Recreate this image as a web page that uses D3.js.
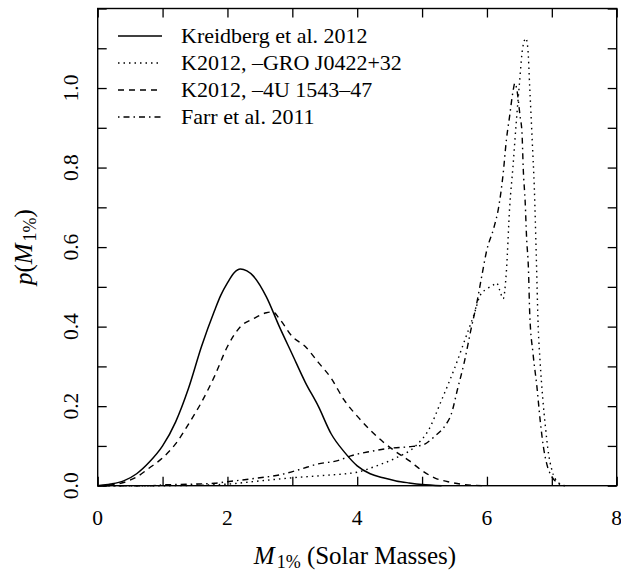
<!DOCTYPE html>
<html><head><meta charset="utf-8">
<script src="https://cdn.jsdelivr.net/npm/d3@7"></script>
<style>body{margin:0;background:#fff}svg{display:block}text{font-family:"Liberation Serif","Times New Roman",Times,"DejaVu Serif",serif}</style>
</head><body>
<script>
// ---- data ----
const xTicks = [0, 1, 2, 3, 4, 5, 6, 7, 8];
const xTickLabels = [0, 2, 4, 6, 8];
const yTicks = [0, 0.1, 0.2, 0.3, 0.4, 0.5, 0.6, 0.7, 0.8, 0.9, 1.0, 1.1, 1.2];
const yTickLabels = [0, 0.2, 0.4, 0.6, 0.8, 1.0];
const seriesNames = ["Kreidberg et al. 2012", "K2012, \u2013GRO J0422+32", "K2012, \u20134U 1543\u201347", "Farr et al. 2011"];

const kreidbergMass = [0, 0.2, 0.4, 0.6, 0.8, 1.0, 1.2, 1.4, 1.6, 1.8, 1.9, 2.0, 2.1, 2.2, 2.3, 2.4, 2.6, 2.8, 3.0, 3.2, 3.4, 3.6, 3.8, 4.0, 4.2, 4.4, 4.6, 4.8, 5.0, 5.3];
const kreidbergDens = [0, 0.004, 0.012, 0.03, 0.06, 0.10, 0.16, 0.245, 0.35, 0.44, 0.48, 0.51, 0.535, 0.545, 0.54, 0.527, 0.475, 0.40, 0.33, 0.26, 0.20, 0.13, 0.085, 0.05, 0.03, 0.02, 0.012, 0.007, 0.003, 0];

const groMass = [0, 1.0, 1.5, 2.0, 2.5, 3.0, 3.5, 4.0, 4.3, 4.6, 4.9, 5.1, 5.3, 5.5, 5.7, 5.8, 5.9, 6.0, 6.1, 6.15, 6.2, 6.25, 6.3, 6.35, 6.4, 6.45, 6.5, 6.55, 6.6, 6.63, 6.66, 6.7, 6.73, 6.76, 6.79, 6.82, 6.86, 6.9, 6.95, 7.0, 7.1, 7.2];
const groDens = [0, 0, 0.001, 0.004, 0.012, 0.02, 0.026, 0.034, 0.05, 0.07, 0.10, 0.14, 0.215, 0.295, 0.385, 0.43, 0.48, 0.495, 0.505, 0.51, 0.49, 0.47, 0.54, 0.70, 0.80, 0.91, 1.01, 1.10, 1.125, 1.10, 1.0, 0.86, 0.75, 0.58, 0.40, 0.31, 0.22, 0.15, 0.08, 0.04, 0.008, 0];

const uMass = [0, 0.2, 0.4, 0.6, 0.8, 1.0, 1.2, 1.4, 1.6, 1.8, 2.0, 2.2, 2.4, 2.6, 2.7, 2.8, 3.0, 3.2, 3.4, 3.6, 3.8, 4.0, 4.2, 4.4, 4.6, 4.8, 5.0, 5.2, 5.4, 5.6, 5.8, 6.0];
const uDens = [0, 0.002, 0.008, 0.022, 0.045, 0.07, 0.105, 0.155, 0.21, 0.275, 0.35, 0.40, 0.42, 0.435, 0.437, 0.42, 0.375, 0.35, 0.31, 0.27, 0.215, 0.175, 0.14, 0.11, 0.085, 0.063, 0.038, 0.019, 0.01, 0.004, 0.001, 0];

const farrMass = [0, 0.8, 1.0, 1.5, 1.8, 2.0, 2.5, 2.8, 3.1, 3.4, 3.7, 3.9, 4.2, 4.5, 4.8, 5.0, 5.2, 5.35, 5.45, 5.55, 5.65, 5.75, 5.85, 5.92, 6.0, 6.1, 6.18, 6.25, 6.3, 6.35, 6.4, 6.43, 6.46, 6.51, 6.54, 6.56, 6.59, 6.61, 6.64, 6.66, 6.71, 6.77, 6.82, 6.87, 6.92, 7.0, 7.1, 7.2];
const farrDens = [0, 0, 0.002, 0.004, 0.006, 0.01, 0.02, 0.027, 0.04, 0.055, 0.063, 0.075, 0.086, 0.094, 0.098, 0.102, 0.125, 0.15, 0.18, 0.245, 0.31, 0.39, 0.465, 0.527, 0.594, 0.645, 0.70, 0.785, 0.87, 0.93, 0.99, 1.012, 0.997, 0.93, 0.888, 0.795, 0.711, 0.627, 0.543, 0.43, 0.333, 0.249, 0.165, 0.098, 0.056, 0.023, 0.006, 0];

// ---- layout ----
const W = 621, H = 571;
const pLeft = 97.7, pRight = 616.7, pTop = 8.5, pBottom = 485.7;

const svg = d3.select("body").append("svg").attr("width", W).attr("height", H);
const x = d3.scaleLinear().domain([0, 8]).range([pLeft, pRight]);
const y = d3.scaleLinear().domain([0, 1.2]).range([pBottom, pTop]);

const styles = [
  {dash: null, w: 1.5},
  {dash: "1.5,4", w: 1.4},
  {dash: "6,5", w: 1.4},
  {dash: "1.5,4,6,4", w: 1.4}
];
const series = [
  [kreidbergMass, kreidbergDens],
  [groMass, groDens],
  [uMass, uDens],
  [farrMass, farrDens]
];

const line = d3.line().x(d => x(d[0])).y(d => y(d[1])).curve(d3.curveMonotoneX);
const plot = svg.append("g");
series.forEach((s, i) => {
  const pts = s[0].map((m, j) => [m, s[1][j]]);
  plot.append("path").attr("d", line(pts)).attr("fill", "none")
    .attr("stroke", "#000").attr("stroke-width", styles[i].w)
    .attr("stroke-dasharray", styles[i].dash);
});

// axes with inward ticks
const tk = 9;
const axB = svg.append("g").attr("transform", `translate(0,${pBottom})`)
  .call(d3.axisBottom(x).tickValues(xTicks).tickSizeInner(-tk).tickSizeOuter(0).tickFormat(""));
const axT = svg.append("g").attr("transform", `translate(0,${pTop})`)
  .call(d3.axisTop(x).tickValues(xTicks).tickSizeInner(-tk).tickSizeOuter(0).tickFormat(""));
const axL = svg.append("g").attr("transform", `translate(${pLeft},0)`)
  .call(d3.axisLeft(y).tickValues(yTicks).tickSizeInner(-tk).tickSizeOuter(0).tickFormat(""));
const axR = svg.append("g").attr("transform", `translate(${pRight},0)`)
  .call(d3.axisRight(y).tickValues(yTicks).tickSizeInner(-tk).tickSizeOuter(0).tickFormat(""));
[axB, axT, axL, axR].forEach(a => {
  a.select(".domain").remove();
  a.selectAll("line").attr("stroke", "#000").attr("stroke-width", 1.3);
});

svg.append("rect").attr("x", pLeft).attr("y", pTop).attr("width", pRight - pLeft).attr("height", pBottom - pTop)
  .attr("fill", "none").attr("stroke", "#000").attr("stroke-width", 1.4);

// tick labels
svg.append("g").selectAll("text").data(xTickLabels).join("text")
  .attr("x", d => x(d)).attr("y", 525).attr("text-anchor", "middle")
  .attr("font-size", 21.5).text(d => d);
svg.append("g").selectAll("text").data(yTickLabels).join("text")
  .attr("transform", d => `translate(78,${y(d)}) rotate(-90)`).attr("text-anchor", "middle")
  .attr("font-size", 21.5).text(d => d.toFixed(1));

// axis titles
const xt = svg.append("text").attr("x", 355).attr("y", 564).attr("text-anchor", "middle")
  .attr("font-size", 25);
xt.append("tspan").attr("font-style", "italic").text("M");
xt.append("tspan").attr("font-size", 18).attr("dy", 4).attr("dx", 2).text("1%");
xt.append("tspan").attr("dy", -4).text(" (Solar Masses)");

const yt = svg.append("text").attr("transform", `translate(32,${(pTop + pBottom) / 2}) rotate(-90)`)
  .attr("text-anchor", "middle").attr("font-size", 25);
yt.append("tspan").attr("font-style", "italic").text("p");
yt.append("tspan").text("(");
yt.append("tspan").attr("font-style", "italic").text("M");
yt.append("tspan").attr("font-size", 18).attr("dy", 4).attr("dx", 2).text("1%");
yt.append("tspan").attr("dy", -4).text(")");

// legend
const lg = svg.append("g");
seriesNames.forEach((name, i) => {
  const yy = 36 + i * 27;
  lg.append("line").attr("x1", 118).attr("x2", 162).attr("y1", yy).attr("y2", yy)
    .attr("stroke", "#000").attr("stroke-width", styles[i].w).attr("stroke-dasharray", styles[i].dash);
  lg.append("text").attr("x", 181).attr("y", yy + 7).attr("font-size", 22).text(name);
});
</script>
</body></html>
